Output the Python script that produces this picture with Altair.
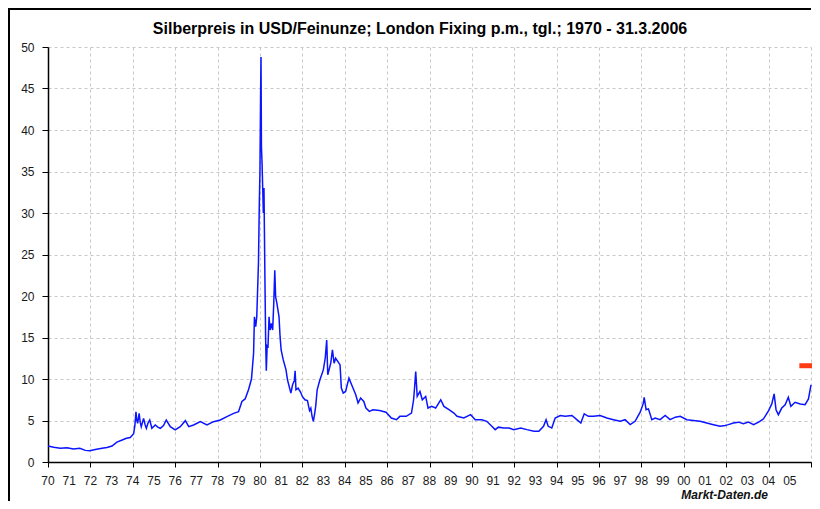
import altair as alt
import pandas as pd

years = [
    1970.00, 1970.27, 1970.58, 1970.90, 1971.20, 1971.50, 1971.76, 1971.97,
    1972.23, 1972.55, 1972.78, 1973.02, 1973.25, 1973.50, 1973.70, 1973.88,
    1974.04, 1974.10, 1974.15, 1974.19, 1974.23, 1974.30, 1974.35, 1974.40,
    1974.51, 1974.58, 1974.64, 1974.72, 1974.80, 1974.90, 1975.06, 1975.18,
    1975.30, 1975.45, 1975.58, 1975.77, 1976.00, 1976.24, 1976.48, 1976.64,
    1976.87, 1977.19, 1977.50, 1977.81, 1978.13, 1978.44, 1978.76, 1978.99,
    1979.15, 1979.30, 1979.46, 1979.60, 1979.70, 1979.74, 1979.80, 1979.85,
    1979.88, 1979.93, 1979.97, 1980.00, 1980.03, 1980.05, 1980.07, 1980.10,
    1980.13, 1980.16, 1980.19, 1980.21, 1980.24, 1980.27, 1980.30, 1980.34,
    1980.38, 1980.43, 1980.48, 1980.54, 1980.60, 1980.65, 1980.70, 1980.74,
    1980.80, 1980.90, 1980.95, 1981.00, 1981.10, 1981.23, 1981.30, 1981.46,
    1981.54, 1981.62, 1981.66, 1981.70, 1981.80, 1981.92, 1982.00, 1982.12,
    1982.24, 1982.34, 1982.40, 1982.46, 1982.52, 1982.58, 1982.63, 1982.70,
    1982.83, 1982.99, 1983.08, 1983.15, 1983.20, 1983.34, 1983.42, 1983.50,
    1983.57, 1983.68, 1983.78, 1983.84, 1983.93, 1984.04, 1984.20, 1984.36,
    1984.52, 1984.63, 1984.75, 1984.90, 1985.00, 1985.16, 1985.33, 1985.64,
    1985.95, 1986.20, 1986.44, 1986.60, 1986.90, 1987.15, 1987.25, 1987.30,
    1987.35, 1987.42, 1987.55, 1987.66, 1987.82, 1987.93, 1988.10, 1988.29,
    1988.53, 1988.68, 1988.92, 1989.15, 1989.30, 1989.62, 1989.94, 1990.16,
    1990.47, 1990.70, 1990.94, 1991.10, 1991.25, 1991.50, 1991.75, 1991.98,
    1992.30, 1992.60, 1992.93, 1993.16, 1993.38, 1993.50, 1993.60, 1993.77,
    1993.93, 1994.17, 1994.40, 1994.72, 1994.95, 1995.14, 1995.30, 1995.50,
    1995.74, 1996.05, 1996.37, 1996.68, 1997.00, 1997.23, 1997.47, 1997.70,
    1997.94, 1998.08, 1998.13, 1998.22, 1998.33, 1998.49, 1998.65, 1998.88,
    1999.12, 1999.35, 1999.60, 1999.83, 2000.14, 2000.45, 2000.77, 2001.08,
    2001.40, 2001.71, 2001.95, 2002.10, 2002.34, 2002.58, 2002.81, 2003.05,
    2003.29, 2003.53, 2003.76, 2004.00, 2004.15, 2004.26, 2004.35, 2004.46,
    2004.62, 2004.78, 2004.93, 2005.05, 2005.25, 2005.49, 2005.72, 2005.88,
    2006.00,
]

prices = [
    1.93, 1.77, 1.65, 1.73, 1.57, 1.65, 1.40, 1.37,
    1.50, 1.65, 1.75, 1.93, 2.40, 2.65, 2.85, 2.95,
    3.40, 4.40, 6.06, 5.00, 4.66, 5.86, 4.80, 4.26,
    5.26, 4.50, 4.06, 4.70, 5.06, 4.06, 4.46, 4.20,
    4.06, 4.40, 5.06, 4.26, 3.86, 4.26, 4.98, 4.26,
    4.46, 4.86, 4.46, 4.86, 5.06, 5.46, 5.86, 6.06,
    7.30, 7.60, 8.70, 10.0, 13.1, 17.5, 16.3, 17.5,
    19.9, 24.0, 31.0, 35.0, 44.0, 48.8, 38.0, 36.0,
    33.0, 30.0, 33.0, 28.0, 21.0, 14.7, 11.0, 14.0,
    13.9, 17.5, 15.9, 16.7, 15.9, 19.0, 23.1, 19.9,
    19.1, 17.5, 15.1, 13.5, 12.3, 11.1, 9.9, 8.3,
    9.3, 9.8, 11.0, 8.7, 8.9, 8.4, 7.9, 7.5,
    7.4, 6.2, 6.5, 5.5, 4.9, 5.8, 6.7, 8.7,
    9.9, 11.1, 12.5, 14.7, 10.5, 11.9, 13.5, 11.9,
    12.5, 12.1, 11.7, 8.9, 8.3, 8.5, 10.1, 9.1,
    8.1, 7.1, 7.7, 7.3, 6.5, 6.1, 6.3, 6.2,
    6.0, 5.3, 5.1, 5.5, 5.5, 5.9, 7.5, 9.1,
    10.9, 7.9, 8.5, 7.5, 7.9, 6.5, 6.7, 6.5,
    7.5, 6.7, 6.3, 5.9, 5.5, 5.3, 5.7, 5.1,
    5.1, 4.9, 4.3, 3.9, 4.2, 4.1, 4.1, 3.9,
    4.1, 3.9, 3.7, 3.7, 4.3, 5.1, 4.3, 4.1,
    5.3, 5.6, 5.5, 5.6, 5.1, 4.7, 5.8, 5.5,
    5.5, 5.6, 5.3, 5.1, 4.9, 5.1, 4.5, 4.9,
    6.0, 7.0, 7.8, 6.3, 6.4, 5.1, 5.3, 5.1,
    5.6, 5.1, 5.4, 5.5, 5.1, 5.0, 4.9, 4.7,
    4.5, 4.3, 4.4, 4.5, 4.7, 4.8, 4.6, 4.8,
    4.5, 4.8, 5.2, 6.2, 7.0, 8.2, 6.3, 5.7,
    6.5, 6.9, 7.8, 6.7, 7.2, 7.0, 6.9, 7.6,
    9.3,
]

x_ticks = list(range(1970, 2007))
x_label_years = list(range(1970, 2006))
x_label_texts = ["70", "71", "72", "73", "74", "75", "76", "77", "78", "79",
                 "80", "81", "82", "83", "84", "85", "86", "87", "88", "89",
                 "90", "91", "92", "93", "94", "95", "96", "97", "98", "99",
                 "00", "01", "02", "03", "04", "05"]
y_ticks = list(range(0, 51, 5))

marker_start = [2005.45]
marker_end = [2006.5]
marker_value = [11.6]

title_text = "Silberpreis in USD/Feinunze; London Fixing p.m., tgl.; 1970 - 31.3.2006"
credit_text = "Markt-Daten.de"

FONT = "Liberation Sans"
W, H = 763, 415

df = pd.DataFrame({"year": years, "price": prices})
mdf = pd.DataFrame({"x0": marker_start, "x1": marker_end, "v": marker_value})
ldf = pd.DataFrame({"year": x_label_years, "label": x_label_texts})

xscale = alt.Scale(domain=[1970, 2006], nice=False, zero=False)

x_enc = alt.X(
    "year:Q",
    scale=xscale,
    axis=alt.Axis(
        values=x_ticks,
        labels=False,
        title=None,
        grid=True,
        gridColor="#c8c8c8",
        gridDash=[3, 3],
        gridWidth=1,
        domainColor="#000000",
        domainWidth=1.5,
        tickColor="#000000",
        tickSize=5,
        tickWidth=1,
    ),
)

y_enc = alt.Y(
    "price:Q",
    scale=alt.Scale(domain=[0, 50], nice=False),
    axis=alt.Axis(
        values=y_ticks,
        title=None,
        grid=True,
        gridColor="#c8c8c8",
        gridDash=[3, 3],
        gridWidth=1,
        domainColor="#000000",
        domainWidth=1.5,
        tickColor="#000000",
        tickSize=6,
        tickWidth=1,
        labelFont=FONT,
        labelFontSize=12,
        labelColor="#1a1a1a",
        labelPadding=8,
        labelFlush=False,
        labelOverlap=False,
    ),
)

line = alt.Chart(df).mark_line(color="#0a14ff", strokeWidth=1.5).encode(x=x_enc, y=y_enc)

xlabels = alt.Chart(ldf).mark_text(
    font=FONT, fontSize=12, color="#1a1a1a", align="center", baseline="alphabetic"
).encode(
    x=alt.X("year:Q", scale=xscale),
    y=alt.value(H + 23),
    text="label:N",
)

marker = alt.Chart(mdf).mark_rule(color="#ff3c14", strokeWidth=5, strokeCap="butt").encode(
    x="x0:Q", x2="x1:Q", y="v:Q"
)

title = alt.Chart(pd.DataFrame({"t": [title_text]})).mark_text(
    font=FONT, fontSize=16, fontWeight="bold", color="#000000",
    align="center", baseline="alphabetic",
).encode(x=alt.value(372), y=alt.value(-13.5), text="t:N")

credit = alt.Chart(pd.DataFrame({"t": [credit_text]})).mark_text(
    font=FONT, fontSize=12, fontWeight="bold", fontStyle="italic",
    align="right", baseline="alphabetic", color="#111111",
).encode(x=alt.value(720), y=alt.value(H + 37), text="t:N")

frame_left = alt.Chart(pd.DataFrame({"a": [0]})).mark_rule(color="#000000", strokeWidth=2).encode(
    x=alt.value(-39), y=alt.value(-38), y2=alt.value(H + 40)
)
frame_top = alt.Chart(pd.DataFrame({"a": [0]})).mark_rule(color="#000000", strokeWidth=2).encode(
    x=alt.value(-40), x2=alt.value(W), y=alt.value(-38)
)

chart = (
    alt.layer(line, xlabels, marker, title, credit, frame_left, frame_top)
    .properties(
        width=W,
        height=H,
        padding={"left": 40, "top": 39, "right": 1, "bottom": 39},
        autosize=alt.AutoSizeParams(type="none"),
        background="#ffffff",
    )
    .configure_view(strokeWidth=0)
)

chart.save("out.html", embed_options={"renderer": "svg", "actions": False})
